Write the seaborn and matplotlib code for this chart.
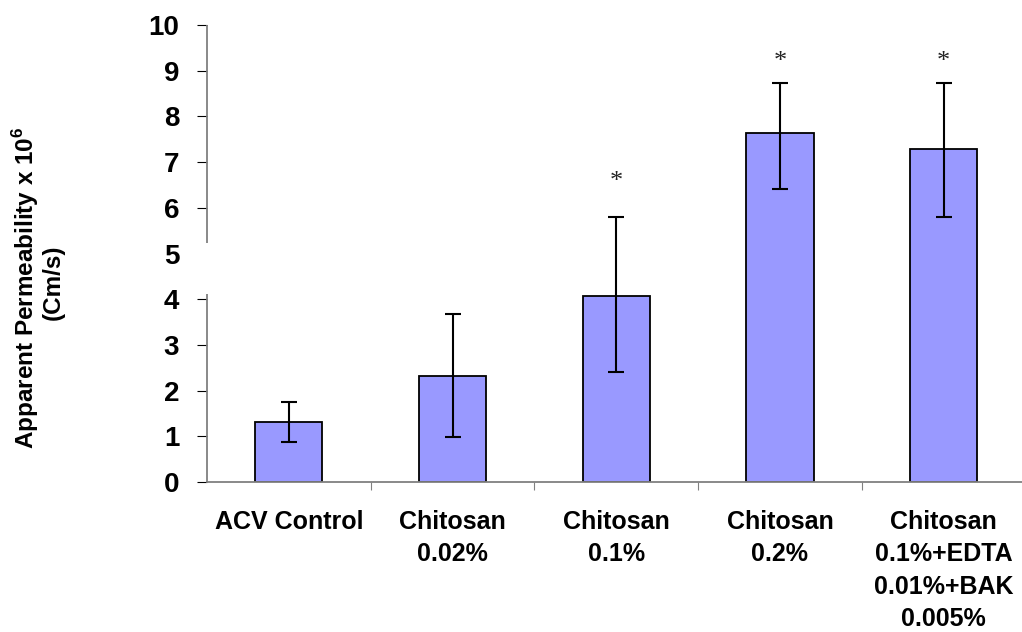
import matplotlib
matplotlib.use("Agg")
import matplotlib.pyplot as plt
import matplotlib.transforms as mtransforms
import seaborn as sns
import pandas as pd
import numpy as np

# ---- data ----
categories = ["ACV Control", "Chitosan\n0.02%", "Chitosan\n0.1%", "Chitosan\n0.2%",
              "Chitosan\n0.1%+EDTA\n0.01%+BAK\n0.005%"]
means = [1.31, 2.32, 4.08, 7.63, 7.28]
err_low = [0.44, 1.33, 1.68, 1.22, 1.48]
err_high = [0.44, 1.36, 1.71, 1.10, 1.45]
star_heights = [np.nan, np.nan, 6.57, 9.19, 9.19]
y_ticks = [0, 1, 2, 3, 4, 5, 6, 7, 8, 9, 10]

sns.set_theme(style="white")
plt.rcParams["font.family"] = ["Liberation Sans", "DejaVu Sans"]
plt.rcParams["mathtext.fontset"] = "custom"
plt.rcParams["mathtext.rm"] = "Liberation Sans:bold"
plt.rcParams["mathtext.bf"] = "Liberation Sans:bold"
plt.rcParams["text.color"] = "black"
plt.rcParams["xtick.color"] = "black"
plt.rcParams["ytick.color"] = "black"

df = pd.DataFrame({"cat": categories, "val": means})

fig = plt.figure(figsize=(10.22, 6.32), dpi=100)
fig.patch.set_facecolor("white")
ax = fig.add_axes([0.2025, 0.2373, 1.0035 - 0.2025, 0.9604 - 0.2373])
ax.set_facecolor("white")

sns.barplot(data=df, x="cat", y="val", color="#9999FF", saturation=1,
            width=0.41, edgecolor="black", linewidth=1.3, errorbar=None, ax=ax)

xs = np.arange(len(categories))
ax.errorbar(xs, means, yerr=[err_low, err_high], fmt="none", ecolor="black",
            elinewidth=1.5, capsize=5.8, capthick=1.5, zorder=5)

for x, h in zip(xs, star_heights):
    if not np.isnan(h):
        ax.text(x, h, "*", ha="center", va="center", fontsize=19,
                family="Liberation Serif", color="#222222")

ax.set_xlim(-0.5, len(categories) - 0.5)
ax.set_ylim(0, 10)
ax.set_yticks(y_ticks)
ax.set_yticklabels([str(t) for t in y_ticks], fontsize=20, fontweight="bold", color="black")
ax.set_xticks(xs)
ax.set_xticklabels(categories, fontsize=18, fontweight="bold", linespacing=1.45, color="black")
ax.set_xticks(np.arange(len(categories) - 1) + 0.5, minor=True)
ax.set_xlabel("")
ax.set_ylabel("")

ax.tick_params(axis="y", which="major", direction="out", length=7, width=0.8,
               color="black", pad=13, left=True)
ax.tick_params(axis="x", which="major", length=0, pad=20)
ax.tick_params(axis="x", which="minor", direction="out", length=6, width=0.8,
               color="#808080", bottom=True)

# hide tick mark at 5 (broken axis look)
for t in ax.yaxis.get_major_ticks():
    if abs(t.get_loc() - 5) < 1e-9:
        t.tick1line.set_visible(False)

for s in ["top", "right", "left"]:
    ax.spines[s].set_visible(False)
ax.spines["bottom"].set_color("#808080")
ax.spines["bottom"].set_linewidth(1.3)

# left spine with a gap around 5
trans = mtransforms.blended_transform_factory(ax.transAxes, ax.transData)
gap_lo, gap_hi = 4.11, 5.23
ax.plot([0, 0], [0, gap_lo], color="#808080", lw=1.3, transform=trans, clip_on=False,
        solid_capstyle="butt")
ax.plot([0, 0], [gap_hi, 10], color="#808080", lw=1.3, transform=trans, clip_on=False,
        solid_capstyle="butt")

fig.text(26 / 1022, 1 - 288 / 632, r"Apparent Permeability x 10$^{6}$", rotation=90,
         ha="center", va="center", fontsize=17.5, fontweight="bold")
fig.text(53 / 1022, 1 - 282 / 632, "(Cm/s)", rotation=90,
         ha="center", va="center", fontsize=17.5, fontweight="bold")

fig.savefig("out.png", dpi=100, facecolor="white")
